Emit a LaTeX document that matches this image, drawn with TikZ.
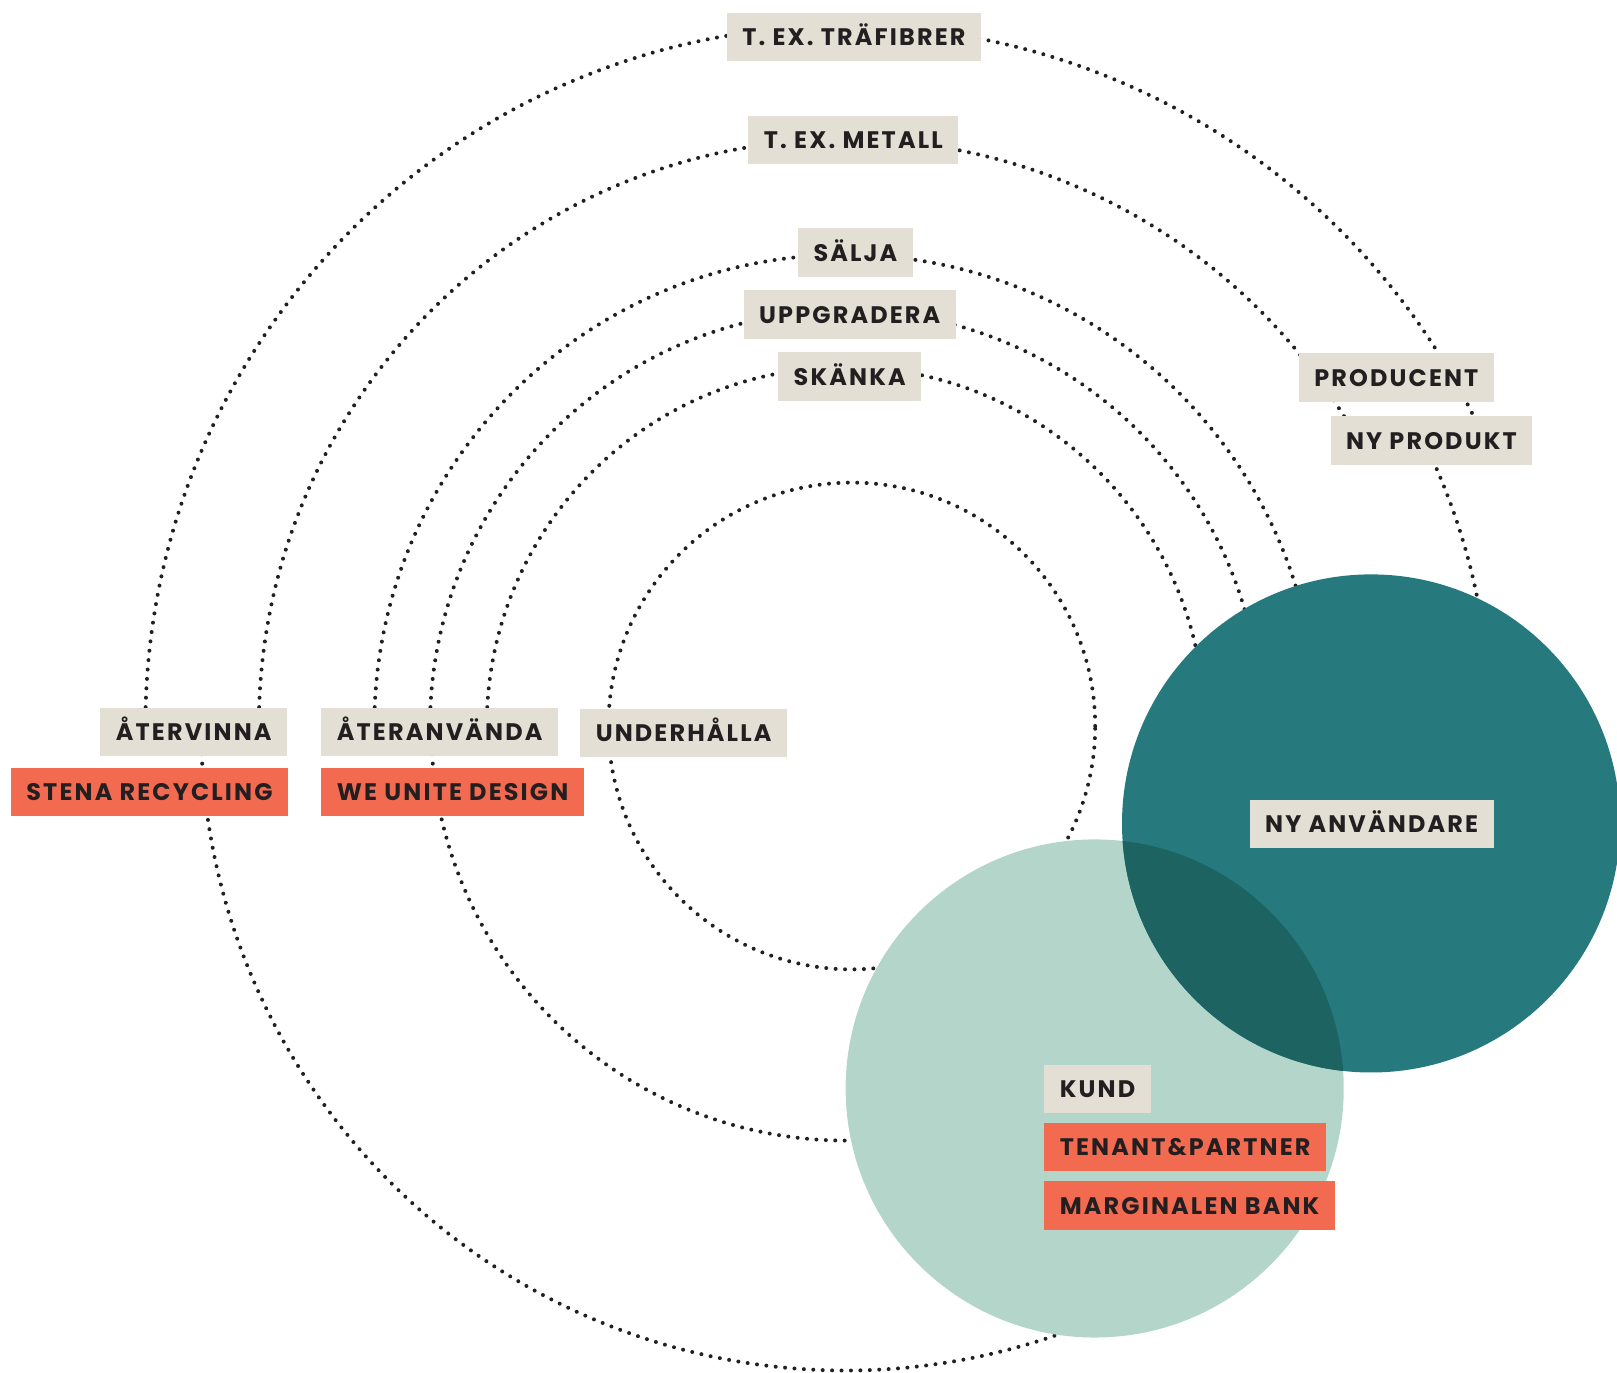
\documentclass[tikz,border=0pt]{standalone}
\usepackage{fontspec}
\setmainfont{Poppins}[LetterSpace=9]
\usepackage{xcolor}
\usepackage{tikz}

\definecolor{labelbeige}{HTML}{E3DFD5}
\definecolor{partnerred}{HTML}{F26B50}
\definecolor{userteal}{HTML}{267A7E}
\definecolor{kundteal}{HTML}{B4D5CA}
\definecolor{bothteal}{HTML}{1C6362}
\definecolor{ink}{HTML}{231F20}

\tikzset{
    loopline/.style={ink, line width=1.1pt, line cap=round, dash pattern=on 0pt off 2.6pt},
    tag/.style={fill=labelbeige, text=ink, font=\bfseries\fontsize{6.6}{8}\selectfont,
        inner xsep=0.15cm, inner ysep=0pt, minimum height=0.47cm, text height=0.17cm, text depth=0pt},
    partner/.style={tag, fill=partnerred},
}

\begin{document}
\begin{tikzpicture}
    \useasboundingbox (0,0) rectangle (15.68,13.31);
    \coordinate (c) at (8.20,6.27); % centre of the loops
    \coordinate (ci) at (8.26,6.27); % centre of the inner loop

    % Loops
    \draw[loopline] (ci) circle[radius=2.36]; % underhalla
    \draw[loopline] (c) ++(180:3.48) arc[start angle=180, end angle=5, radius=3.48]; % skanka
    \draw[loopline] (c) ++(180:4.03) arc[start angle=180, end angle=8, radius=4.03]; % uppgradera
    \draw[loopline] (c) ++(180:4.57) arc[start angle=180, end angle=10, radius=4.57]; % salja
    \draw[loopline] (c) ++(180:4.02) arc[start angle=180, end angle=272, radius=4.02]; % ateranvanda
    \draw[loopline] (c) ++(180:5.69) arc[start angle=180, end angle=30, radius=5.69]; % metall
    \draw[loopline] (c) ++(180:6.79) arc[start angle=180, end angle=24, radius=6.79]; % trafibrer
    \draw[loopline] (c) ++(26:6.25) arc[start angle=26, end angle=5, radius=6.25]; % ny produkt
    \draw[loopline] (c) ++(180:6.25) arc[start angle=180, end angle=295, radius=6.25]; % atervinna

    % Users
    \fill[kundteal] (10.615,2.755) circle[radius=2.415]; % kund
    \fill[userteal] (13.295,5.325) circle[radius=2.415]; % ny anvandare
    \begin{scope}
        \clip (10.615,2.755) circle[radius=2.415];
        \fill[bothteal] (13.295,5.325) circle[radius=2.415];
    \end{scope}

    % Labels
    \node[tag] (trafibrer) at (8.28,12.95) {T. EX. TRÄFIBRER};
    \node[tag] (metall) at (8.275,11.95) {T. EX. METALL};
    \node[tag] (salja) at (8.295,10.86) {SÄLJA};
    \node[tag] (uppgradera) at (8.24,10.26) {UPPGRADERA};
    \node[tag] (skanka) at (8.24,9.66) {SKÄNKA};
    \node[tag] (producent) at (13.54,9.65) {PRODUCENT};
    \node[tag] (nyprodukt) at (13.88,9.04) {NY PRODUKT};
    \node[tag, anchor=east] (atervinna) at (2.79,6.21) {ÅTERVINNA};
    \node[partner, anchor=east] (stena) at (2.80,5.63) {STENA RECYCLING};
    \node[tag, anchor=west] (ateranvanda) at (3.11,6.21) {ÅTERANVÄNDA};
    \node[partner, anchor=west] (weunite) at (3.11,5.63) {WE UNITE DESIGN};
    \node[tag, anchor=west] (underhalla) at (5.62,6.20) {UNDERHÅLLA};
    \node[tag] (nyanvandare) at (13.30,5.32) {NY ANVÄNDARE};
    \node[tag, anchor=west] (kund) at (10.12,2.75) {KUND};
    \node[partner, anchor=west] (tenant) at (10.12,2.19) {TENANT\&PARTNER};
    \node[partner, anchor=west] (marginalen) at (10.12,1.62) {MARGINALEN BANK};
\end{tikzpicture}
\end{document}
